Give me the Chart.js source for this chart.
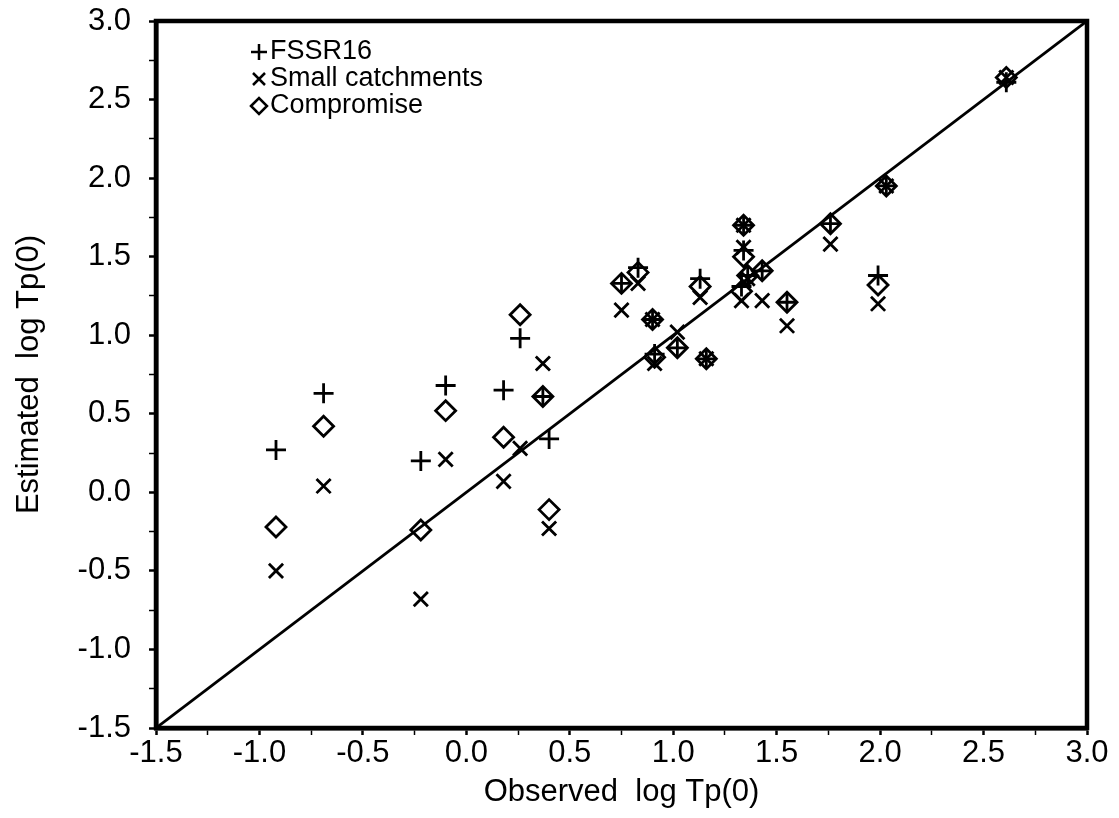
<!DOCTYPE html>
<html>
<head>
<meta charset="utf-8">
<script src="https://cdn.jsdelivr.net/npm/chart.js@4"></script>
<style>
  html, body { margin: 0; padding: 0; background: #fff; }
  #wrap { width: 1119px; height: 818px; position: relative; }
</style>
</head>
<body>
<div id="wrap"><canvas id="tpChart"></canvas></div>
<script>
// observed log Tp(0) for each catchment, and the three estimates
const observed        = [-0.92, -0.69, -0.22, -0.10, 0.18, 0.26, 0.37, 0.40, 0.75, 0.83, 0.90, 0.91, 1.02, 1.13, 1.16, 1.34, 1.34, 1.36, 1.33, 1.43, 1.55, 1.76, 1.99, 2.03, 2.61];
const fssr16          = [ 0.27,  0.63,  0.20,  0.68, 0.65, 0.98, 0.61, 0.34, 1.33, 1.43, 1.10, 0.88, 0.92, 1.36, 0.85, 1.70, 1.54, 1.38, 1.31, 1.41, 1.21, 1.71, 1.38, 1.95, 2.61];
const smallCatchments = [-0.50,  0.04, -0.68,  0.21, 0.07, 0.28, 0.82, -0.23, 1.16, 1.33, 1.10, 0.82, 1.02, 1.24, 0.85, 1.70, 1.56, 1.36, 1.22, 1.22, 1.06, 1.58, 1.20, 1.95, 2.64];
const compromise      = [-0.22,  0.42, -0.24,  0.52, 0.35, 1.13, 0.61, -0.11, 1.33, 1.40, 1.10, 0.86, 0.92, 1.31, 0.85, 1.70, 1.50, 1.38, 1.28, 1.41, 1.21, 1.71, 1.32, 1.95, 2.64];

// 1:1 line and axis range
const lineEnds = [-1.5, 3.0];
const axisMin = -1.5;
const axisMax = 3.0;

const legendItems = [
  { label: 'FSSR16', style: 'cross' },
  { label: 'Small catchments', style: 'crossRot' },
  { label: 'Compromise', style: 'rectRot' }
];

const toPoints = ys => observed.map((x, i) => ({ x: x, y: ys[i] }));

const FONT = '"Liberation Sans", Arial, Helvetica, sans-serif';

// thick frame on all four sides
const framePlugin = {
  id: 'frame',
  afterDraw(chart) {
    const { ctx, chartArea: a } = chart;
    ctx.save();
    ctx.strokeStyle = '#000';
    ctx.lineWidth = 4.5;
    ctx.strokeRect(a.left, a.top, a.right - a.left, a.bottom - a.top);
    ctx.restore();
  }
};

// legend in the upper left of the plot
const insideLegend = {
  id: 'insideLegend',
  afterDraw(chart) {
    const { ctx, chartArea: a } = chart;
    ctx.save();
    ctx.font = '27px ' + FONT;
    ctx.fillStyle = '#000';
    ctx.strokeStyle = '#000';
    ctx.lineWidth = 2.5;
    ctx.textBaseline = 'middle';
    legendItems.forEach((item, i) => {
      const cx = a.left + 103;
      const cy = a.top + 31 + i * 27;
      ctx.beginPath();
      if (item.style === 'cross') {
        ctx.moveTo(cx - 8, cy); ctx.lineTo(cx + 8, cy);
        ctx.moveTo(cx, cy - 8); ctx.lineTo(cx, cy + 8);
      } else if (item.style === 'crossRot') {
        ctx.moveTo(cx - 6, cy - 6); ctx.lineTo(cx + 6, cy + 6);
        ctx.moveTo(cx + 6, cy - 6); ctx.lineTo(cx - 6, cy + 6);
      } else {
        ctx.moveTo(cx - 8, cy); ctx.lineTo(cx, cy - 8);
        ctx.lineTo(cx + 8, cy); ctx.lineTo(cx, cy + 8);
        ctx.closePath();
      }
      ctx.stroke();
      ctx.fillText(item.label, cx + 11, cy);
    });
    ctx.restore();
  }
};

const halfStepLabel = v => {
  const twice = v * 2;
  return Math.abs(twice - Math.round(twice)) < 1e-6 ? v.toFixed(1) : '';
};

const axisCommon = {
  type: 'linear',
  min: axisMin,
  max: axisMax,
  border: { color: '#000', width: 4.5 },
  grid: {
    drawOnChartArea: false,
    drawTicks: true,
    tickLength: 7,
    color: '#000',
    tickWidth: ctx => (halfStepLabel(ctx.tick.value) ? 2.5 : 1.5)
  },
  ticks: {
    stepSize: 0.25,
    autoSkip: false,
    maxRotation: 0,
    color: '#000',
    callback: halfStepLabel
  }
};

const markerSet = (label, ys, style) => ({
  label: label,
  data: toPoints(ys),
  showLine: false,
  pointStyle: style,
  pointRadius: 10,
  pointHoverRadius: 10,
  pointBorderWidth: 2.8,
  borderColor: '#000',
  backgroundColor: 'rgba(0,0,0,0)',
  order: 1
});

new Chart(document.getElementById('tpChart'), {
  type: 'scatter',
  data: {
    datasets: [
      {
        label: '1:1',
        data: lineEnds.map(v => ({ x: v, y: v })),
        showLine: true,
        borderColor: '#000',
        borderWidth: 2.8,
        pointRadius: 0,
        fill: false,
        order: 2
      },
      markerSet('FSSR16', fssr16, 'cross'),
      markerSet('Small catchments', smallCatchments, 'crossRot'),
      markerSet('Compromise', compromise, 'rectRot')
    ]
  },
  options: {
    responsive: true,
    maintainAspectRatio: false,
    animation: false,
    events: [],
    layout: { padding: { top: 21, right: 32, left: 0, bottom: 0 } },
    plugins: {
      legend: { display: false },
      tooltip: { enabled: false }
    },
    scales: {
      x: {
        ...axisCommon,
        position: 'bottom',
        ticks: { ...axisCommon.ticks, padding: 3, font: { family: FONT, size: 31, lineHeight: 1.0 } },
        title: {
          display: true,
          text: 'Observed  log Tp(0)',
          color: '#000',
          font: { family: FONT, size: 31 },
          padding: { top: 0, bottom: 7 }
        },
        afterFit: scale => { scale.height = 90; }
      },
      y: {
        ...axisCommon,
        position: 'left',
        ticks: { ...axisCommon.ticks, padding: 18, font: { family: FONT, size: 31, lineHeight: 0.1 } },
        title: {
          display: true,
          text: 'Estimated  log Tp(0)',
          color: '#000',
          font: { family: FONT, size: 31 },
          padding: { top: 11, bottom: 0 }
        },
        afterFit: scale => { scale.width = 156; }
      }
    }
  },
  plugins: [framePlugin, insideLegend]
});
</script>
</body>
</html>
